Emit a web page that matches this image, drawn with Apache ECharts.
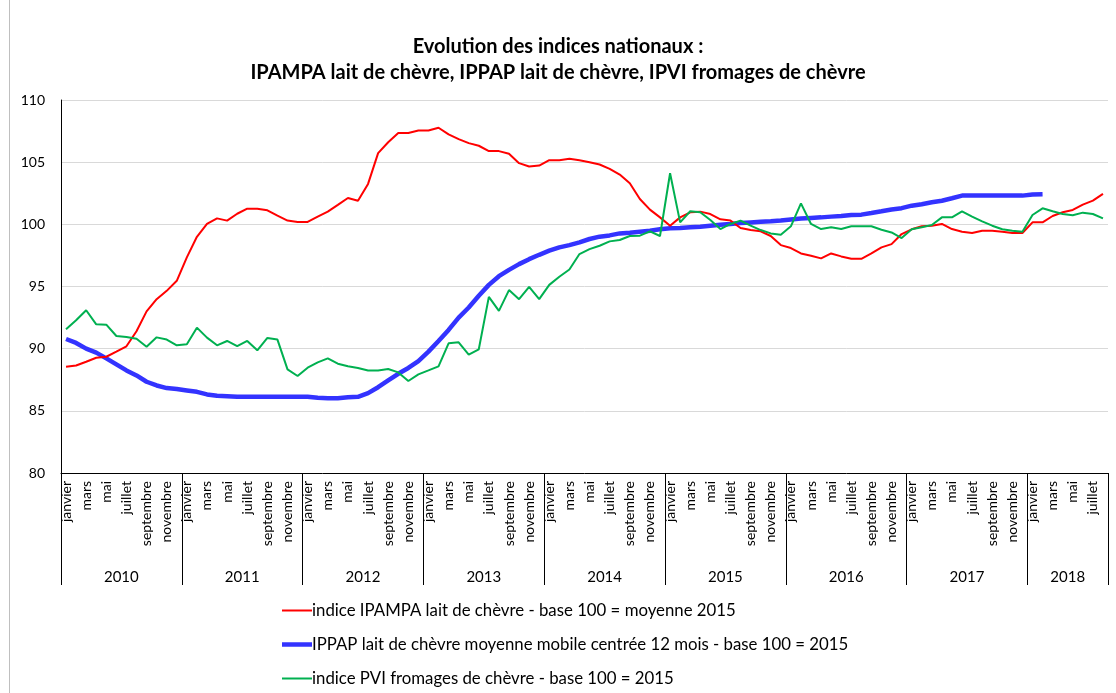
<!DOCTYPE html>
<html lang="fr">
<head>
	<meta charset="UTF-8">
	<title>Evolution des indices nationaux</title>
	<script src="https://cdn.jsdelivr.net/npm/echarts@6/dist/echarts.min.js"></script>
	<style>
		html, body { margin: 0; padding: 0; background: #fff; }
		#chart { width: 1116px; height: 693px; }
	</style>
</head>
<body>
<div id="chart"></div>
<script>
	// mois (janvier 2010 -> août 2018)
	var monthNames = ['janvier','février','mars','avril','mai','juin','juillet','août','septembre','octobre','novembre','décembre'];
	var years = ['2010','2011','2012','2013','2014','2015','2016','2017','2018'];
	var monthsIn2018 = 8;

	// indice IPAMPA lait de chèvre - base 100 = moyenne 2015
	var ipampa = [
		88.55, 88.65, 88.95, 89.27, 89.35, 89.76, 90.19, 91.4, 93.0, 93.98, 94.65, 95.46,
		97.34, 99.0, 100.03, 100.48, 100.3, 100.85, 101.26, 101.26, 101.13, 100.7, 100.3, 100.19,
		100.19, 100.62, 101.02, 101.56, 102.12, 101.9, 103.25, 105.73, 106.6, 107.34, 107.34, 107.55,
		107.55, 107.77, 107.23, 106.85, 106.53, 106.32, 105.89, 105.89, 105.67, 104.92, 104.65, 104.73,
		105.16, 105.16, 105.27, 105.16, 105.0, 104.81, 104.46, 104.0, 103.3, 102.04, 101.18, 100.56,
		99.89, 100.56, 100.97, 101.02, 100.83, 100.4, 100.3, 99.7, 99.54, 99.44, 99.06, 98.33,
		98.09, 97.66, 97.47, 97.26, 97.66, 97.42, 97.23, 97.23, 97.66, 98.15, 98.41, 99.22,
		99.6, 99.84, 99.89, 100.03, 99.62, 99.41, 99.3, 99.49, 99.49, 99.41, 99.3, 99.3,
		100.16, 100.16, 100.67, 100.97, 101.16, 101.59, 101.91, 102.45
	];
	// IPPAP lait de chèvre moyenne mobile centrée 12 mois - base 100 = 2015
	var ippap = [
		90.78, 90.46, 90.0, 89.68, 89.22, 88.74, 88.25, 87.85, 87.34, 87.04, 86.83, 86.75,
		86.64, 86.53, 86.32, 86.21, 86.18, 86.13, 86.13, 86.13, 86.13, 86.13, 86.13, 86.13,
		86.13, 86.05, 86.02, 86.02, 86.1, 86.13, 86.42, 86.9, 87.44, 87.98, 88.45, 89.0,
		89.76, 90.62, 91.51, 92.5, 93.31, 94.25, 95.13, 95.83, 96.34, 96.8, 97.2, 97.55,
		97.88, 98.15, 98.33, 98.55, 98.82, 99.01, 99.11, 99.27, 99.33, 99.41, 99.49, 99.6,
		99.68, 99.7, 99.76, 99.81, 99.89, 99.97, 100.03, 100.1, 100.15, 100.2, 100.24, 100.3,
		100.38, 100.46, 100.51, 100.56, 100.62, 100.67, 100.75, 100.78, 100.91, 101.05, 101.2, 101.3,
		101.5, 101.62, 101.77, 101.9, 102.1, 102.31, 102.31, 102.31, 102.31, 102.31, 102.31, 102.31,
		102.4, 102.42
	];
	// indice PVI fromages de chèvre - base 100 = 2015
	var ipvi = [
		91.56, 92.28, 93.09, 91.96, 91.93, 91.02, 90.94, 90.8, 90.16, 90.91, 90.73, 90.27,
		90.35, 91.69, 90.89, 90.27, 90.62, 90.2, 90.62, 89.87, 90.86, 90.73, 88.33, 87.8,
		88.47, 88.9, 89.22, 88.79, 88.58, 88.44, 88.25, 88.25, 88.36, 88.09, 87.4, 87.93,
		88.25, 88.58, 90.43, 90.51, 89.52, 89.95, 94.17, 93.04, 94.71, 93.98, 94.97, 93.98,
		95.13, 95.78, 96.37, 97.61, 98.01, 98.28, 98.63, 98.74, 99.06, 99.09, 99.44, 99.06,
		104.11, 100.16, 101.05, 100.97, 100.35, 99.62, 100.03, 100.3, 99.89, 99.54, 99.27, 99.17,
		99.84, 101.69, 100.03, 99.62, 99.76, 99.62, 99.84, 99.84, 99.84, 99.57, 99.35, 98.9,
		99.6, 99.76, 99.95, 100.56, 100.56, 101.05, 100.62, 100.24, 99.89, 99.6, 99.49, 99.41,
		100.75, 101.29, 101.05, 100.83, 100.73, 100.94, 100.83, 100.48
	];
	var yTicks = [80, 85, 90, 95, 100, 105, 110];

	var seriesNames = [
		'indice IPAMPA lait de chèvre - base 100 = moyenne 2015',
		'IPPAP lait de chèvre moyenne mobile centrée 12 mois - base 100 = 2015',
		'indice PVI fromages de chèvre - base 100 = 2015'
	];

	// catégories mois / année
	var categories = [];
	for (var y = 0; y < years.length; y++) {
		var n = (y === years.length - 1) ? monthsIn2018 : 12;
		for (var m = 0; m < n; m++) {
			categories.push(monthNames[m]);
		}
	}
	// indice du mois où l'on pose l'étiquette de l'année (milieu de l'année)
	var yearLabelIdx = {};
	var start = 0;
	for (var y = 0; y < years.length; y++) {
		var n = (y === years.length - 1) ? monthsIn2018 : 12;
		yearLabelIdx[start + n / 2 - 1] = years[y];
		start += n;
	}

	var font = 'Lato, "Liberation Sans", sans-serif';
	var chart = echarts.init(document.getElementById('chart'));
	var option = {
		animation: false,
		backgroundColor: '#fff',
		textStyle: { fontFamily: font, color: '#000' },
		title: {
			text: 'Evolution des indices nationaux :\nIPAMPA lait de chèvre, IPPAP lait de chèvre, IPVI fromages de chèvre',
			left: 'center',
			top: 29,
			textStyle: { fontFamily: font, fontSize: 20, fontWeight: 'bold', color: '#000', lineHeight: 26 }
		},
		graphic: [{
			type: 'line',
			shape: { x1: 9.5, y1: 0, x2: 9.5, y2: 693 },
			style: { stroke: '#bfbfbf', lineWidth: 1 }
		}],
		legend: {
			orient: 'vertical',
			left: 282,
			top: 602,
			padding: 0,
			height: 91,
			itemWidth: 30,
			itemHeight: 14,
			itemGap: 17,
			textStyle: { fontFamily: font, fontSize: 16.8, color: '#000', padding: [0, 0, 0, -5] },
			data: [
				{ name: seriesNames[0], icon: 'path://M0 0H30V2H0Z' },
				{ name: seriesNames[1], icon: 'path://M0 0H30V4.5H0Z' },
				{ name: seriesNames[2], icon: 'path://M0 0H30V2H0Z' }
			]
		},
		grid: { left: 61, right: 8, top: 100, bottom: 220, containLabel: false },
		xAxis: [{
			type: 'category',
			data: categories,
			boundaryGap: true,
			axisLine: { lineStyle: { color: '#000', width: 1 } },
			axisTick: { show: false },
			axisLabel: { rotate: 90, interval: 1, margin: 8, fontSize: 14, color: '#000', fontFamily: font }
		}, {
			type: 'category',
			data: categories,
			boundaryGap: true,
			position: 'bottom',
			axisLine: { show: false },
			axisTick: {
				show: true,
				length: 112,
				interval: function (i) { return i % 12 === 0; },
				lineStyle: { color: '#000', width: 1 }
			},
			axisLabel: {
				interval: function (i) { return yearLabelIdx[i] !== undefined; },
				formatter: function (v, i) { return yearLabelIdx[i] || ''; },
				margin: 97,
				padding: [0, 0, 0, 10],
				fontSize: 15,
				color: '#000',
				fontFamily: font
			}
		}],
		yAxis: {
			type: 'value',
			min: yTicks[0],
			max: yTicks[yTicks.length - 1],
			interval: 5,
			axisLine: { show: true, lineStyle: { color: '#000', width: 1 } },
			axisTick: { show: false },
			axisLabel: { margin: 16, fontSize: 14, color: '#000', fontFamily: font },
			splitLine: { lineStyle: { color: '#d9d9d9', width: 1 } }
		},
		series: [{
			name: seriesNames[0],
			type: 'line',
			data: ipampa,
			symbol: 'none',
			lineStyle: { color: '#ff0000', width: 2 },
			itemStyle: { color: '#ff0000' },
			z: 3
		}, {
			name: seriesNames[1],
			type: 'line',
			data: ippap,
			symbol: 'none',
			lineStyle: { color: '#3333ff', width: 4.5 },
			itemStyle: { color: '#3333ff' },
			z: 2
		}, {
			name: seriesNames[2],
			type: 'line',
			data: ipvi,
			symbol: 'none',
			lineStyle: { color: '#00b050', width: 2 },
			itemStyle: { color: '#00b050' },
			z: 4
		}]
	};
	chart.setOption(option);
</script>
</body>
</html>
